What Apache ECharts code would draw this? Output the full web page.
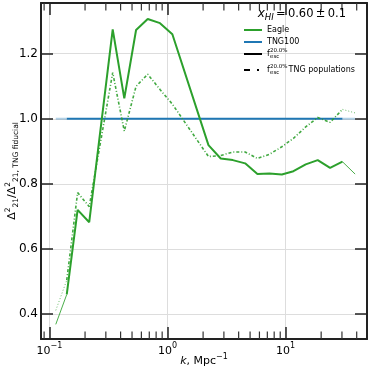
<!DOCTYPE html>
<html><head><meta charset="utf-8">
<script src="https://cdn.jsdelivr.net/npm/echarts@6/dist/echarts.min.js"></script>
<style>html,body{margin:0;padding:0;background:#fff}#c{width:374px;height:372px}</style>
</head><body><div id="c"></div>
<script>
// wavenumber k (Mpc^-1)
const k = [0.113, 0.140, 0.173, 0.217, 0.343, 0.430, 0.541, 0.679, 0.863, 1.098, 2.22, 2.82, 3.57, 4.54, 5.77, 7.29, 9.29, 11.65, 14.8, 18.7, 23.8, 30.3, 38.8];
// ratio values
const eagle = [0.368, 0.460, 0.720, 0.682, 1.275, 1.063, 1.273, 1.307, 1.294, 1.260, 0.919, 0.878, 0.873, 0.863, 0.830, 0.832, 0.829, 0.839, 0.860, 0.873, 0.849, 0.868, 0.830];
const tngPop = [0.411, 0.504, 0.773, 0.730, 1.142, 0.962, 1.100, 1.137, 1.090, 1.045, 0.884, 0.887, 0.898, 0.898, 0.878, 0.891, 0.914, 0.940, 0.975, 1.004, 0.989, 1.029, 1.018];
const tng100 = [1, 1, 1, 1, 1, 1, 1, 1, 1, 1, 1, 1, 1, 1, 1, 1, 1, 1, 1, 1, 1, 1, 1];
const minorTicks = [0.09, 0.2, 0.3, 0.4, 0.5, 0.6, 0.7, 0.8, 0.9, 2, 3, 4, 5, 6, 7, 8, 9, 20, 30, 40];
const legendNames = ['Eagle', 'TNG100'];
const titleText = ['x', 'HI', '\u2009=\u20090.60\u2009±\u20090.1'];

const xMin = 0.0847, xMax = 48.9, yMin = 0.323, yMax = 1.356;
const GREEN = '#2ca02c', BLUE = '#1f77b4', AX = '#222';

function core(vals) {
  return k.map((x, i) => (i >= 1 && i <= k.length - 2) ? [x, vals[i]] : [x, null]);
}
function ends(vals) {
  const n = k.length;
  return k.map((x, i) => (i <= 1 || i >= n - 2) ? [x, vals[i]] : [x, null]);
}

const supMap = {'-1': '−1', '0': '0', '1': '1'};
const chart = echarts.init(document.getElementById('c'), null, {renderer: 'canvas'});
const baseX = {
  type: 'log', logBase: 10, min: xMin, max: xMax,
  axisLine: {show: true, lineStyle: {color: AX, width: 2}},
  axisTick: {show: true, inside: true, length: 12, lineStyle: {color: AX, width: 1.5}},
  minorTick: {show: false}
};
const baseY = {
  type: 'value', min: yMin, max: yMax,
  axisLine: {show: true, lineStyle: {color: AX, width: 2}},
  axisTick: {show: true, inside: true, length: 12, lineStyle: {color: AX, width: 1.5}}
};
const txt = {fontFamily: 'DejaVu Sans', fontSize: 8, fill: '#000', verticalAlign: 'middle'};
const small = {fontFamily: 'DejaVu Sans', fontSize: 5.5, fill: '#000', verticalAlign: 'middle'};
chart.setOption({
  animation: false,
  grid: {left: 41, right: 7, top: 3, bottom: 33, containLabel: false, outerBoundsMode: 'none'},
  xAxis: [
    Object.assign({}, baseX, {
      position: 'bottom',
      name: '{i|k}{n|, Mpc}{s|−1}', nameLocation: 'middle', nameGap: 14, nameMoveOverlap: false,
      nameTextStyle: {rich: {
        i: {fontFamily: 'DejaVu Sans', fontSize: 11, fontStyle: 'italic', color: '#000', lineHeight: 14, verticalAlign: 'bottom'},
        n: {fontFamily: 'DejaVu Sans', fontSize: 11, color: '#000', lineHeight: 14, verticalAlign: 'bottom'},
        s: {fontFamily: 'DejaVu Sans', fontSize: 8, color: '#000', verticalAlign: 'top'}
      }},
      splitLine: {show: true, lineStyle: {color: '#dddddd', width: 1}},
      axisLabel: {
        show: true, margin: 3, showMinLabel: false, showMaxLabel: false,
        formatter: function (v) {
          const e = Math.round(Math.log10(v));
          if (Math.abs(Math.log10(v) - e) > 1e-6) return '';
          return '{b|10}{s|' + (supMap[String(e)] || String(e)) + '}';
        },
        rich: {
          b: {fontFamily: 'DejaVu Sans', fontSize: 11, color: '#000', lineHeight: 15, verticalAlign: 'bottom'},
          s: {fontFamily: 'DejaVu Sans', fontSize: 8, color: '#000', verticalAlign: 'top'}
        }
      }
    }),
    Object.assign({}, baseX, {position: 'top', axisLabel: {show: false}, splitLine: {show: false}})
  ],
  yAxis: [
    Object.assign({}, baseY, {
      position: 'left',
      name: '{d|Δ}{p|2}{b|21}{d|/Δ}{p|2}{b|21, TNG fiducial}',
      nameLocation: 'middle', nameGap: 21, nameRotate: 90, nameMoveOverlap: false,
      nameTextStyle: {rich: {
        d: {fontFamily: 'DejaVu Sans', fontSize: 11, color: '#000', lineHeight: 16},
        p: {fontFamily: 'DejaVu Sans', fontSize: 7.5, color: '#000', verticalAlign: 'top'},
        b: {fontFamily: 'DejaVu Sans', fontSize: 7.5, color: '#000', verticalAlign: 'bottom'}
      }},
      splitLine: {show: true, lineStyle: {color: '#dddddd', width: 1}},
      axisLabel: {
        show: true, margin: 3, showMinLabel: false, showMaxLabel: false,
        fontFamily: 'DejaVu Sans', fontSize: 12, color: '#000',
        formatter: v => v.toFixed(1)
      }
    }),
    Object.assign({}, baseY, {position: 'right', axisLabel: {show: false}, splitLine: {show: false}})
  ],
  series: [
    {
      type: 'custom', xAxisIndex: 0, yAxisIndex: 0, silent: true, clip: false, z: 5,
      data: minorTicks.map(v => [v, yMin]),
      renderItem: function (params, api) {
        const cs = params.coordSys;
        const x = api.coord([api.value(0), yMin])[0];
        const b = cs.y + cs.height, t = cs.y;
        return {type: 'group', children: [
          {type: 'line', shape: {x1: x, y1: b, x2: x, y2: b - 7.5}, style: {stroke: '#333', lineWidth: 1.2}},
          {type: 'line', shape: {x1: x, y1: t, x2: x, y2: t + 7.5}, style: {stroke: '#333', lineWidth: 1.2}}
        ]};
      }
    },
    {name: 'TNG100 ends', type: 'line', data: ends(tng100), showSymbol: false, connectNulls: false,
      lineStyle: {color: BLUE, width: 2, opacity: 0.35}, z: 2},
    {name: 'TNG100', type: 'line', data: core(tng100), showSymbol: false, connectNulls: false,
      lineStyle: {color: BLUE, width: 2}, z: 2},
    {name: 'Eagle ends', type: 'line', data: ends(eagle), showSymbol: false, connectNulls: false,
      lineStyle: {color: GREEN, width: 1, opacity: 0.85}, z: 3},
    {name: 'Eagle', type: 'line', data: core(eagle), showSymbol: false, connectNulls: false,
      lineStyle: {color: GREEN, width: 2}, z: 3},
    {name: 'Eagle pop ends', type: 'line', data: ends(tngPop), showSymbol: false, connectNulls: false,
      lineStyle: {color: GREEN, width: 1, type: [1, 2], opacity: 0.7}, z: 3},
    {name: 'Eagle pop', type: 'line', data: core(tngPop), showSymbol: false, connectNulls: false,
      lineStyle: {color: GREEN, width: 1.6, type: [3, 2, 1, 2], opacity: 0.9}, z: 3}
  ],
  graphic: [
    {type: 'text', right: 28, top: 8, z: 100, style: {
      text: '{i|' + titleText[0] + '}{s|' + titleText[1] + '}{n|' + titleText[2] + '}',
      rich: {
        i: {fontFamily: 'DejaVu Sans', fontSize: 12, fontStyle: 'italic', fill: '#000', lineHeight: 16},
        s: {fontFamily: 'DejaVu Sans', fontSize: 8.5, fontStyle: 'italic', fill: '#000', verticalAlign: 'bottom'},
        n: {fontFamily: 'DejaVu Sans', fontSize: 11.5, fill: '#000', lineHeight: 16}
      }
    }},
    {type: 'rect', z: 100, shape: {x: 244, y: 29, width: 18, height: 2}, style: {fill: GREEN}},
    {type: 'text', z: 100, x: 267, y: 30, style: Object.assign({text: legendNames[0]}, txt)},
    {type: 'rect', z: 100, shape: {x: 244, y: 41, width: 18, height: 2}, style: {fill: BLUE}},
    {type: 'text', z: 100, x: 267, y: 42, style: Object.assign({text: legendNames[1]}, txt)},
    {type: 'rect', z: 100, shape: {x: 244, y: 53, width: 18, height: 2}, style: {fill: '#000'}},
    {type: 'text', z: 100, x: 267, y: 54, style: Object.assign({text: 'f'}, txt)},
    {type: 'text', z: 100, x: 270, y: 50.5, style: Object.assign({text: '20.0%'}, small)},
    {type: 'text', z: 100, x: 270, y: 57, style: Object.assign({text: 'esc'}, small)},
    {type: 'rect', z: 100, shape: {x: 244, y: 69, width: 6, height: 2}, style: {fill: '#000'}},
    {type: 'rect', z: 100, shape: {x: 257, y: 69, width: 2, height: 2}, style: {fill: '#000'}},
    {type: 'text', z: 100, x: 267, y: 70, style: Object.assign({text: 'f'}, txt)},
    {type: 'text', z: 100, x: 270, y: 66.5, style: Object.assign({text: '20.0%'}, small)},
    {type: 'text', z: 100, x: 270, y: 73, style: Object.assign({text: 'esc'}, small)},
    {type: 'text', z: 100, x: 286, y: 70, style: Object.assign({text: ' TNG populations'}, txt)}
  ]
});
</script></body></html>
